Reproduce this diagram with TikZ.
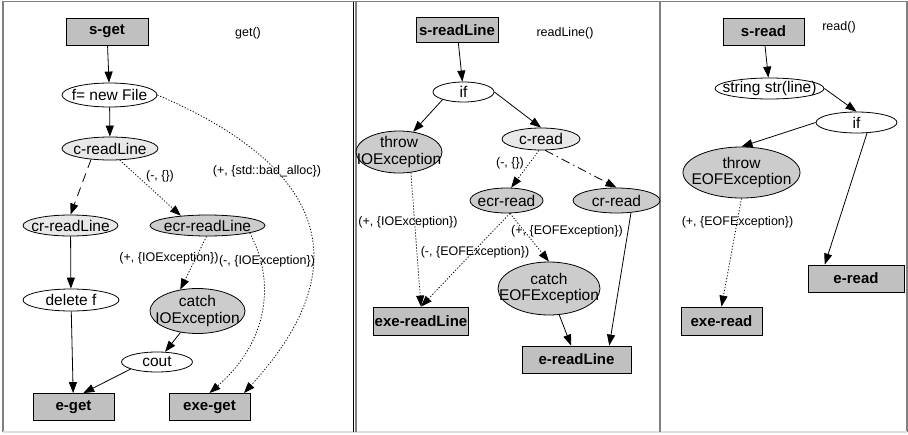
\documentclass[tikz,border=0pt]{standalone}
\usepackage{fontspec}
\setmainfont{Liberation Sans}
\usepackage{xcolor}
\usetikzlibrary{positioning, shapes.geometric, arrows.meta}
\definecolor{cfgBox}{RGB}{192, 192, 192}
\definecolor{cfgCall}{RGB}{232, 232, 232}
\definecolor{cfgExc}{RGB}{204, 204, 204}
\definecolor{cfgFrame}{RGB}{128, 128, 128}
\tikzset{
    base/.style={
        font=\fontsize{15.5}{16.5}\selectfont,
        align=center
    },
    endpoint/.style={
        base,
        rectangle,
        draw=black,
        line width=0.8pt,
        fill=cfgBox,
        font=\fontsize{15}{16}\selectfont\bfseries,
        inner sep=1pt,
        minimum height=27pt
    },
    ellbase/.style={
        base,
        ellipse,
        draw=black,
        line width=0.8pt,
        inner xsep=-60pt,
        inner ysep=-15pt
    },
    stmt/.style={
        ellbase,
        fill=white
    },
    callnode/.style={
        ellbase,
        fill=cfgCall
    },
    excnode/.style={
        ellbase,
        fill=cfgExc
    },
    flow/.style={
        -{Triangle[length=11pt, width=8pt]},
        line width=0.8pt,
        color=black
    },
    excflow/.style={
        flow,
        dash pattern=on 1.2pt off 1.8pt
    },
    normflow/.style={
        flow,
        dash pattern=on 9pt off 6pt
    },
    retflow/.style={
        flow,
        dash pattern=on 9pt off 4pt on 1.5pt off 4pt
    },
    label/.style={
        font=\fontsize{12.5}{13.5}\selectfont,
        inner sep=0pt
    },
    frameline/.style={
        draw=cfgFrame,
        line width=1.5pt
    }
}

\begin{document}
\begin{tikzpicture}[x=1pt, y=-1pt]
  \useasboundingbox (0,0) rectangle (908,434);

  % Frames
  \draw[frameline] (3,432) -- (3,1.5) -- (907,1.5) -- (907,432);
  \draw[frameline, draw=gray!25] (3,432) -- (907,432);
  \draw[line width=1.2pt] (353.5,1.5) -- (353.5,432);
  \draw[frameline] (356,1.5) -- (356,432);
  \draw[frameline, line width=2.2pt] (660,1.5) -- (660,432);

  % get()
  \node[endpoint, minimum width=82pt] (sget) at (107,31.5) {s-get};
  \node[label] (lblget) at (248,33) {get()};
  \node[stmt, minimum width=95pt, minimum height=24pt] (fnew) at (109.5,95) {f= new File};
  \node[callnode, minimum width=96pt, minimum height=23pt] (creadline) at (110,148.5) {c-readLine};
  \node[callnode, minimum width=95pt, minimum height=21pt] (crreadline) at (70.5,225.5) {cr-readLine};
  \node[excnode, minimum width=115pt, minimum height=21pt] (ecrreadline) at (207.5,225.5) {ecr-readLine};
  \node[stmt, minimum width=96pt, minimum height=22pt] (deletef) at (71,300) {delete f};
  \node[excnode, minimum width=95pt, minimum height=45pt] (catchio) at (197.5,311) {catch\\IOException};
  \node[stmt, minimum width=71pt, minimum height=20pt] (cout) at (157,362) {cout};
  \node[endpoint, minimum width=81pt] (eget) at (73.5,407) {e-get};
  \node[endpoint, minimum width=81pt] (exeget) at (209.5,407) {exe-get};

  \node[label] (lblnone) at (160,176) {(-, \{\})};
  \node[label] (lblbadalloc) at (267,171) {(+, \{std::bad\_alloc\})};
  \node[label] (lblioplus) at (169,258) {(+, \{IOException\})};
  \node[label] (lbliominus) at (267,261) {(-, \{IOException\})};

  \draw[flow] (sget) -- (fnew);
  \draw[flow] (fnew) -- (creadline);
  \draw[normflow] (creadline.-150) -- (crreadline.north);
  \draw[excflow] (creadline.-50) -- (ecrreadline.160);
  \draw[excflow] (fnew.east) .. controls (380,190) and (320,310) .. (exeget.22);
  \draw[excflow] (ecrreadline.-95) -- (catchio.129);
  \draw[excflow] (ecrreadline.-10) .. controls (275,280) and (270,340) .. (exeget.north);
  \draw[flow] (crreadline) -- (deletef);
  \draw[flow] (deletef) -- (eget);
  \draw[flow] (catchio) -- (cout);
  \draw[flow] (cout.195) -- (eget.55);

  % readLine()
  \node[endpoint, minimum width=82pt, minimum height=25pt] (sreadline) at (457,30) {s-readLine};
  \node[label] (lblreadline) at (565,33) {readLine()};
  \node[stmt, minimum width=61pt, minimum height=20pt] (ifrl) at (463.5,92) {if};
  \node[excnode, minimum width=86pt, minimum height=42pt] (throwio) at (399,152) {throw\\IOException};
  \node[callnode, minimum width=78pt, minimum height=22pt] (cread) at (541,139) {c-read};
  \node[excnode, minimum width=73pt, minimum height=25pt] (ecrread) at (506.5,200.5) {ecr-read};
  \node[excnode, minimum width=87pt, minimum height=25pt] (crread) at (616.5,200.5) {cr-read};
  \node[excnode, minimum width=102pt, minimum height=53pt] (catcheof) at (549,288.5) {catch\\EOFException};
  \node[endpoint, minimum width=94pt, minimum height=28pt] (exereadline) at (421,321) {exe-readLine};
  \node[endpoint, minimum width=109pt] (ereadline) at (576.5,359.5) {e-readLine};

  \node[label] (lblnone2) at (510,163) {(-, \{\})};
  \node[label] (lblio2) at (408,222.5) {(+, \{IOException\})};
  \node[label] (lbleofplus) at (567,231) {(+, \{EOFException\})};
  \node[label] (lbleofminus) at (475,252) {(-, \{EOFException\})};

  \draw[flow] (sreadline) -- (ifrl);
  \draw[flow] (ifrl.200) -- (throwio.55);
  \draw[flow] (ifrl.east) -- (cread.north);
  \draw[excflow] (cread.-100) -- (ecrread.70);
  \draw[retflow] (cread.-70) -- (crread.north);
  \draw[excflow] (throwio.-60) -- (exereadline.north);
  \draw[excflow] (ecrread.-75) -- (exereadline.north);
  \draw[excflow] (ecrread.-75) -- (catcheof.north);
  \draw[flow] (catcheof) -- (ereadline);
  \draw[flow] (crread.-40) -- (ereadline.23);

  % read()
  \node[endpoint, minimum width=81pt] (sread) at (763.5,31.5) {s-read};
  \node[label] (lblread) at (839,27) {read()};
  \node[stmt, minimum width=109pt, minimum height=21pt] (strline) at (769.5,88.5) {string str(line)};
  \node[stmt, minimum width=81pt, minimum height=21pt] (ifread) at (856.5,122.5) {if};
  \node[excnode, minimum width=117pt, minimum height=51pt] (throweof) at (741.5,172.5) {throw\\EOFException};
  \node[endpoint, minimum width=81pt, minimum height=28pt] (exeread) at (721.5,321) {exe-read};
  \node[endpoint, minimum width=96pt] (eread) at (856,278.5) {e-read};

  \node[label] (lbleof3) at (737.5,222) {(+, \{EOFException\})};

  \draw[flow] (sread) -- (strline);
  \draw[flow] (strline.east) -- (ifread.north);
  \draw[flow] (ifread.west) -- (throweof.north);
  \draw[flow] (ifread.-45) -- (eread.156);
  \draw[excflow] (throweof.south) -- (exeread.north);
\end{tikzpicture}
\end{document}
